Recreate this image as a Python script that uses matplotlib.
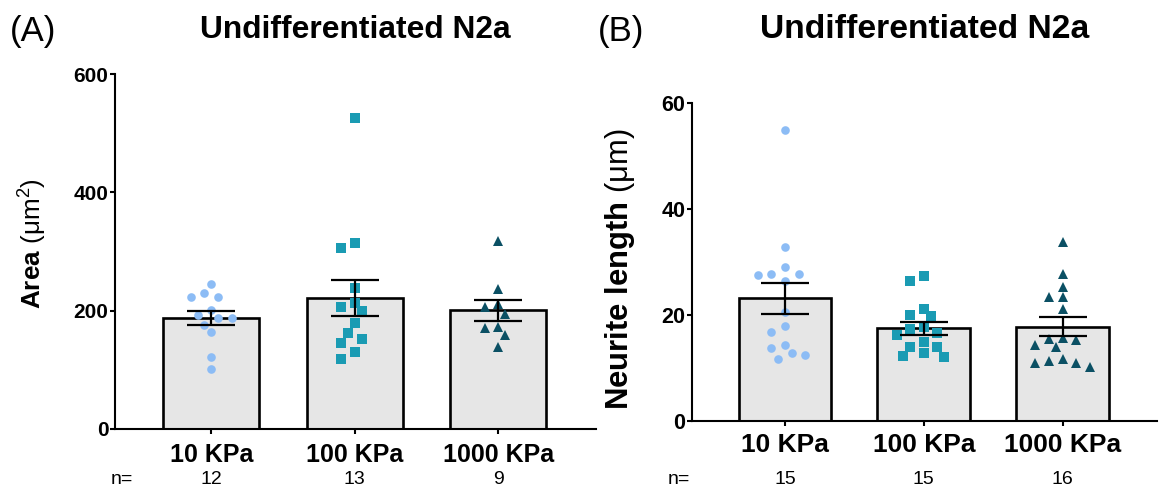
import matplotlib
matplotlib.use("Agg")
import matplotlib.pyplot as plt
import numpy as np

plt.rcParams['font.family'] = ['Liberation Sans', 'DejaVu Sans']
plt.rcParams['mathtext.fontset'] = 'custom'
plt.rcParams['mathtext.rm'] = 'Liberation Sans'
plt.rcParams['mathtext.it'] = 'Liberation Sans:italic'
plt.rcParams['mathtext.bf'] = 'Liberation Sans:bold'

# groups (stiffness)
groups = ['10 KPa', '100 KPa', '1000 KPa']

# (A) cell area, um^2
area_10 = [244.5, 223.6, 223.6, 230.4, 201.0, 192.7, 187.0, 187.0, 175.8, 163.4, 121.2, 101.9]
area_100 = [525.1, 313.8, 306.5, 237.8, 212.4, 206.7, 199.4, 178.6, 161.7, 152.1, 144.8, 129.6, 117.8]
area_1000 = [317.7, 236.6, 210.7, 205.6, 194.3, 172.9, 171.2, 158.9, 139.1]

# (B) neurite length, um
neurite_10 = [54.8, 32.8, 29.1, 27.8, 27.6, 27.8, 26.4, 20.6, 18.0, 16.8, 14.4, 13.8, 12.8, 12.5, 11.6]
neurite_100 = [27.3, 26.4, 21.2, 20.0, 19.8, 17.8, 17.3, 16.2, 16.5, 14.8, 13.9, 13.9, 12.9, 12.1, 12.2]
neurite_1000 = [33.7, 27.8, 25.3, 23.4, 23.3, 21.2, 15.4, 15.6, 15.3, 14.3, 13.9, 11.6, 11.0, 10.9, 11.3, 10.2]

colors = ['#8cbcf5', '#1a9bb3', '#0b5064']
markers = ['o', 's', '^']
msizes = [6.2, 6.8, 7.4]

W, H = 1159, 492
fig = plt.figure(figsize=(W / 100, H / 100), dpi=100)


def px_box(left, right, top, bottom):
    return [left / W, 1 - bottom / H, (right - left) / W, (bottom - top) / H]


def swarm(ax, xc, values, step_px, min_px):
    # simple beeswarm in pixel space so points sit side by side like a scatter dot plot
    pts = ax.transData.transform(np.column_stack([np.full(len(values), xc), values]))
    order = np.argsort(values, kind='stable')[::-1]
    placed = []
    xs = np.zeros(len(values))
    for i in order:
        y = pts[i, 1]
        for k in [0, -1, 1, -2, 2, -3, 3, -4, 4, -5, 5, -6, 6]:
            x = pts[i, 0] + k * step_px
            if all((x - a) ** 2 + (y - b) ** 2 >= min_px ** 2 for a, b in placed):
                break
        placed.append((x, y))
        xs[i] = x
    return ax.transData.inverted().transform(np.column_stack([xs, pts[:, 1]]))[:, 0]


def panel(ax, data, ymax, yticks, tick_fs, xtick_fs, xpad):
    x = np.arange(len(data))
    means = [np.mean(d) for d in data]
    sems = [np.std(d, ddof=1) / np.sqrt(len(d)) for d in data]
    ax.set_xlim(-0.67, 2.68)
    ax.set_ylim(0, ymax)
    ax.bar(x, means, width=0.668, color='#e6e6e6', edgecolor='black', linewidth=1.9, zorder=1)
    for i, d in enumerate(data):
        xs = swarm(ax, x[i], d, 6.8, 10.0)
        ax.plot(xs, d, linestyle='none', marker=markers[i], ms=msizes[i], mew=0,
                color=colors[i], zorder=2, clip_on=False)
    ax.errorbar(x, means, yerr=sems, fmt='none', ecolor='black', elinewidth=1.6,
                capsize=17, capthick=1.6, zorder=3)
    for s in ['top', 'right']:
        ax.spines[s].set_visible(False)
    for s in ['left', 'bottom']:
        ax.spines[s].set_linewidth(1.5)
    ax.set_yticks(yticks)
    ax.set_xticks(x)
    ax.set_xticklabels(groups, fontsize=xtick_fs, fontweight='bold')
    ax.tick_params(axis='y', length=3.6, width=1.5, pad=1, labelsize=tick_fs)
    ax.tick_params(axis='x', length=3.6, width=1.5, pad=xpad)
    for lab in ax.get_yticklabels():
        lab.set_fontweight('bold')


axA = fig.add_axes(px_box(115, 596, 74, 429))
panel(axA, [area_10, area_100, area_1000], 600, [0, 200, 400, 600], 15, 18, 6.5)

axB = fig.add_axes(px_box(692, 1157, 102.7, 421))
panel(axB, [neurite_10, neurite_100, neurite_1000], 60, [0, 20, 40, 60], 15.5, 19, 5)

# titles and panel letters
fig.text(355 / W, 1 - 38 / H, 'Undifferentiated N2a', fontsize=22.9, fontweight='bold',
         ha='center', va='baseline')
fig.text(925 / W, 1 - 38 / H, 'Undifferentiated N2a', fontsize=24.2, fontweight='bold',
         ha='center', va='baseline')
fig.text(10 / W, 1 - 41 / H, '(A)', fontsize=25, ha='left', va='baseline')
fig.text(598 / W, 1 - 41 / H, '(B)', fontsize=25, ha='left', va='baseline')

# y labels
fig.text(33 / W, 1 - 244 / H, r'Area $\mathrm{(\mu m^{2})}$', fontsize=18.8, fontweight='bold',
         rotation=90, ha='center', va='center')
fig.text(620 / W, 1 - 269 / H, r'Neurite length $\mathrm{(\mu m)}$', fontsize=22.3,
         fontweight='bold', rotation=90, ha='center', va='center')

# n counts under each group
counts_A = [len(area_10), len(area_100), len(area_1000)]
counts_B = [len(neurite_10), len(neurite_100), len(neurite_1000)]
fig.text(111 / W, 1 - 480 / H, 'n=', fontsize=14, ha='left', va='center')
fig.text(668 / W, 1 - 480 / H, 'n=', fontsize=14, ha='left', va='center')
for ax, counts in [(axA, counts_A), (axB, counts_B)]:
    for i, c in enumerate(counts):
        xd = ax.transData.transform((i, 0))[0]
        fig.text(xd / W, 1 - 480 / H, str(c), fontsize=14, ha='center', va='center')

fig.savefig('out.png', dpi=100)
